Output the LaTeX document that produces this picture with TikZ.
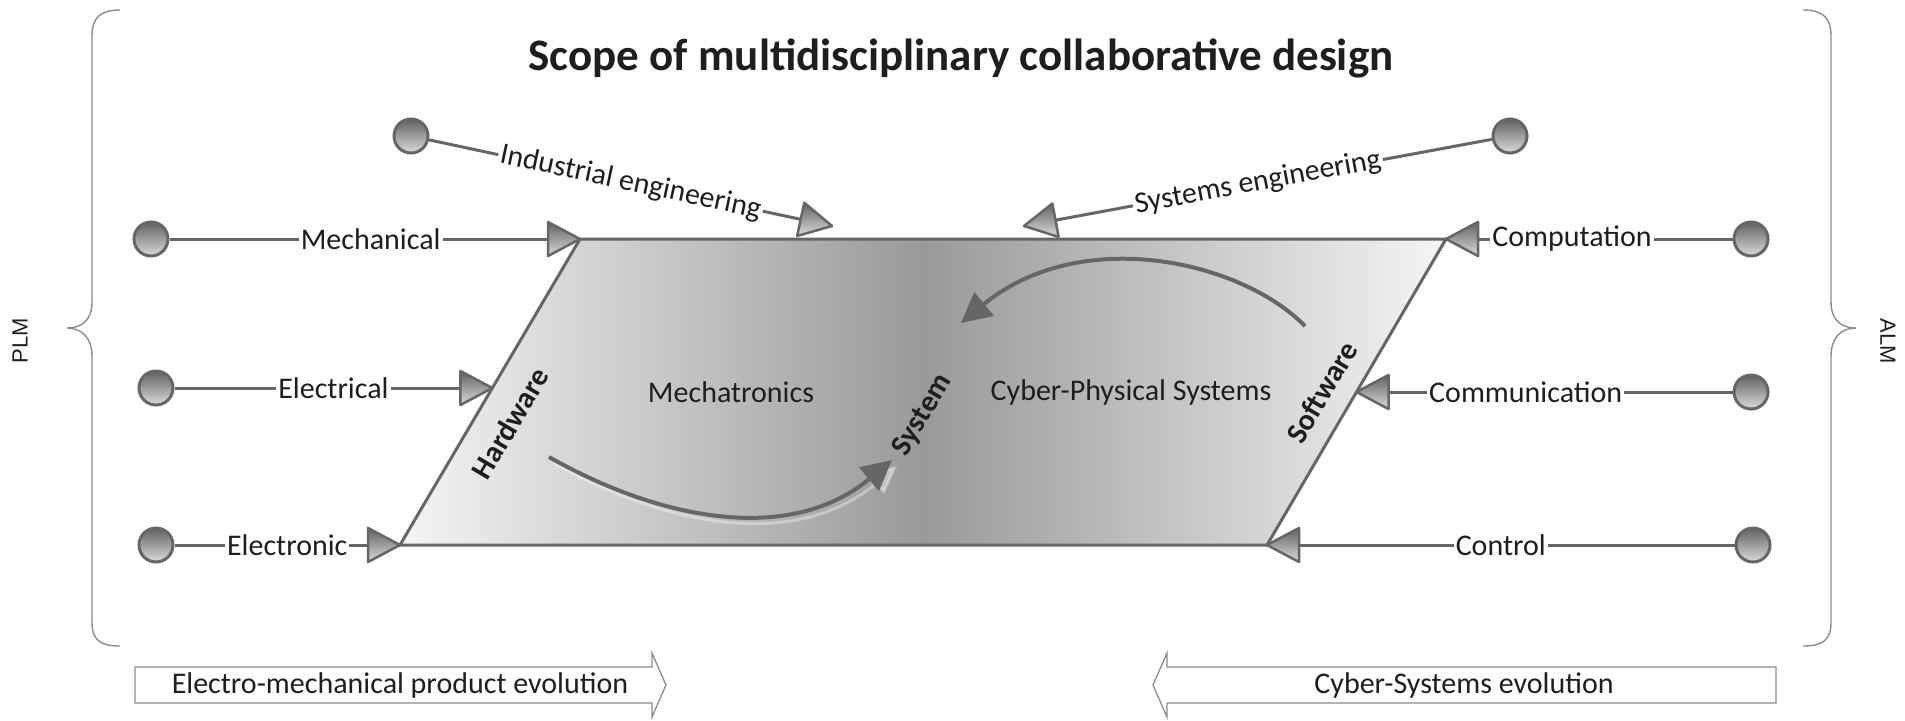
\documentclass[tikz,border=0pt]{standalone}
\usepackage{fontspec}
\setmainfont{Carlito}
\newfontfamily\arialf{Liberation Sans}
\usetikzlibrary{arrows.meta}
\definecolor{edge}{HTML}{666666}
\definecolor{txt}{HTML}{1E1E1E}
\definecolor{brc}{HTML}{8C8C8C}
\begin{document}
\begin{tikzpicture}[x=1pt,y=-1pt,
  lbl/.style={font=\fontsize{30}{35}\selectfont, text=txt, fill=white, inner sep=2pt},
  intxt/.style={font=\fontsize{30}{35}\selectfont, text=txt, inner sep=0pt},
  bldtxt/.style={font=\fontsize{30}{35}\selectfont\bfseries, text=txt, inner sep=0pt},
  bubble/.style={circle, minimum size=34pt, inner sep=0pt, draw=edge, line width=3pt, top color=black!62, bottom color=black!14},
  conn/.style={draw=edge, line width=3pt},
  curv/.style={draw=edge, line width=4pt, -{Triangle[length=30pt,width=30pt]}},
  brace/.style={draw=brc, line width=1.4pt},
  evo/.style={draw=brc, line width=1.3pt, fill=white},
  ahead/.pic={\draw[draw=edge, line width=2.5pt, line join=round, top color=black!62, bottom color=black!14] (0,0) -- (-32,-17) -- (-32,17) -- cycle;}
]
\useasboundingbox (0,0) rectangle (1905,720);

% title
\node[font=\fontsize{45}{54}\selectfont\bfseries, text=txt] (title) at (961,58) {Scope of multidisciplinary collaborative design};

% braces
\draw[brace] (120,10) .. controls (100,10) and (92,18) .. (92,36) -- (92,302) .. controls (92,320) and (82,328) .. (67,328) .. controls (82,328) and (92,338) .. (92,356) -- (92,622) .. controls (92,640) and (100,646) .. (120,646);
\draw[brace] (1803,10) .. controls (1823,10) and (1831,18) .. (1831,36) -- (1831,302) .. controls (1831,320) and (1841,328) .. (1856,328) .. controls (1841,328) and (1831,338) .. (1831,356) -- (1831,622) .. controls (1831,640) and (1823,646) .. (1803,646);
\node[font=\arialf\fontsize{22}{26}\selectfont, text=txt, rotate=90] (plm) at (20,341) {PLM};
\node[font=\arialf\fontsize{22}{26}\selectfont, text=txt, rotate=-90] (alm) at (1888,341) {ALM};

% parallelogram
\coordinate (TL) at (580,239);
\coordinate (TR) at (1446,239);
\coordinate (BR) at (1267,545);
\coordinate (BL) at (400,545);
\path[left color=black!4, right color=black!4, middle color=black!40] (TL) -- (TR) -- (BR) -- (BL) -- cycle;
\draw[draw=edge, line width=3pt, line join=round] (TL) -- (TR) -- (BR) -- (BL) -- cycle;

% inner texts
\node[bldtxt, rotate=59.5] (hw) at (510,423) {Hardware};
\node[bldtxt, rotate=59.5] (sw) at (1322,392) {Software};
\node[bldtxt, rotate=59.5] (sys) at (923,415) {System};
\node[intxt] (mech) at (731,392) {Mechatronics};
\node[intxt] (cps) at (1131,392) {Cyber-Physical Systems};

% curved arrows
\coordinate (c1s) at (549,457);
\coordinate (c1e) at (892,460);
\draw[draw=white, opacity=0.35, line width=3pt, -{Triangle[length=28pt,width=26pt]}] ([shift={(5,6)}]c1s) .. controls (665,526) and (795,551) .. ([shift={(5,6)}]c1e);
\draw[curv] (c1s) .. controls (660,520) and (790,545) .. (c1e);
\coordinate (c2s) at (1305,326);
\coordinate (c2e) at (961,323);
\draw[curv] (c2s) .. controls (1240,260) and (1080,225) .. (c2e);

% connector end points
\coordinate (tMe) at (580,239);
\coordinate (tEl) at (492.4,388);
\coordinate (tEn) at (400,545);
\coordinate (tCo) at (1446,239);
\coordinate (tCm) at (1356.5,392);
\coordinate (tCt) at (1267,545);
\coordinate (tIn) at (832,226);
\coordinate (tSy) at (1024,226);

% bubbles
\node[bubble] (bMe) at (151,239) {};
\node[bubble] (bEl) at (156,388) {};
\node[bubble] (bEn) at (156,545) {};
\node[bubble] (bCo) at (1751,239) {};
\node[bubble] (bCm) at (1751,392) {};
\node[bubble] (bCt) at (1753,545) {};
\node[bubble] (bIn) at (411,136) {};
\node[bubble] (bSy) at (1510,136) {};

% connectors
\draw[conn] (bMe) -- node[lbl, pos=0.49] {Mechanical} (tMe);
\draw[conn] (bEl) -- node[lbl, pos=0.5] {Electrical} (tEl);
\draw[conn] (bEn) -- node[lbl, pos=0.5] {Electronic} (tEn);
\draw[conn] (bCo) -- node[lbl, pos=0.56] {Computation} (tCo);
\draw[conn] (bCm) -- node[lbl, pos=0.55] {Communication} (tCm);
\draw[conn] (bCt) -- node[lbl, pos=0.5] {Control} (tCt);
\draw[conn] (bIn) -- node[lbl, pos=0.5, sloped] {Industrial engineering} (tIn);
\draw[conn] (bSy) -- node[lbl, pos=0.5, sloped] {Systems engineering} (tSy);

% arrowheads
\pic[rotate=0] at (tMe) {ahead};
\pic[rotate=0] at (tEl) {ahead};
\pic[rotate=0] at (tEn) {ahead};
\pic[rotate=180] at (tCo) {ahead};
\pic[rotate=180] at (tCm) {ahead};
\pic[rotate=180] at (tCt) {ahead};
\pic[rotate=-12.07] at (tIn) {ahead};
\pic[rotate=190.49] at (tSy) {ahead};

% evolution arrows
\draw[evo] (135,667) -- (652,667) -- (652,653) -- (666,685) -- (652,717) -- (652,703) -- (135,703) -- cycle;
\node[intxt] (evL) at (400,685) {Electro-mechanical product evolution};
\draw[evo] (1776,667) -- (1167,667) -- (1167,653) -- (1153,685) -- (1167,717) -- (1167,703) -- (1776,703) -- cycle;
\node[intxt] (evR) at (1464,685) {Cyber-Systems evolution};
\end{tikzpicture}
\end{document}
